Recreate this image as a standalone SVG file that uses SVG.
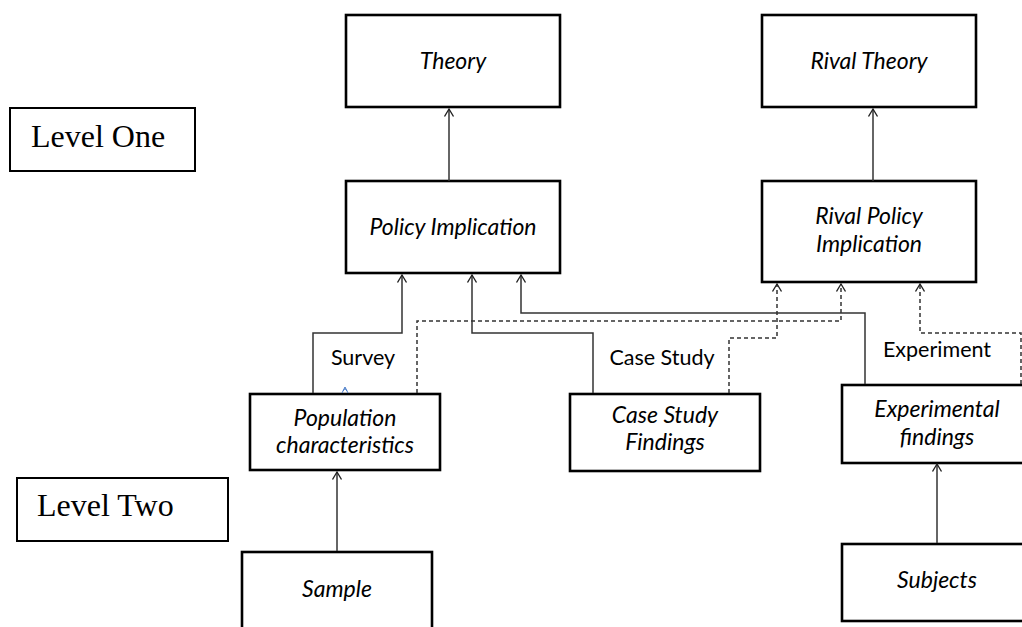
<svg xmlns="http://www.w3.org/2000/svg" width="1022" height="627" viewBox="0 0 1022 627">
<defs>
<marker id="arr" markerUnits="userSpaceOnUse" markerWidth="12" markerHeight="12" viewBox="-10 -6 12 12" refX="0" refY="0" orient="auto">
<path d="M-7.5,-4.5 L0,0 L-7.5,4.5" fill="none" stroke="#222" stroke-width="1.4"/>
</marker>
</defs>
<style>
.node{fill:#fff;stroke:#000;stroke-width:2.6}
.lvl{fill:#fff;stroke:#000;stroke-width:2}
.t{font-family:Lato,"Liberation Sans",sans-serif;font-style:italic;font-size:23px;fill:#000;text-anchor:middle}
.lab{font-family:Lato,"Liberation Sans",sans-serif;font-size:21.5px;fill:#000;text-anchor:middle}
.lv{font-family:"Liberation Serif",serif;font-size:32px;fill:#000}
.c{fill:none;stroke:#333;stroke-width:1.5}
.d{fill:none;stroke:#333;stroke-width:1.5;stroke-dasharray:4 3}
</style>
<rect width="1022" height="627" fill="#fff"/>
<g id="level-one"><rect class="lvl" x="10" y="108" width="185" height="63"/><text class="lv" x="31" y="147">Level One</text></g>
<g id="level-two"><rect class="lvl" x="17" y="478" width="211" height="63"/><text class="lv" x="37" y="516">Level Two</text></g>
<g id="theory"><rect class="node" x="346" y="15" width="214" height="92"/><text class="t" x="453" y="69">Theory</text></g>
<g id="rival-theory"><rect class="node" x="762" y="15" width="214" height="92"/><text class="t" x="869" y="69">Rival Theory</text></g>
<g id="policy-implication"><rect class="node" x="346" y="181" width="214" height="92"/><text class="t" x="453" y="235">Policy Implication</text></g>
<g id="rival-policy-implication"><rect class="node" x="762" y="181" width="214" height="101"/><text class="t" x="869" y="224">Rival Policy</text><text class="t" x="869" y="252">Implication</text></g>
<g id="population-characteristics"><rect class="node" x="250" y="394" width="190" height="76"/><text class="t" x="345" y="426">Population</text><text class="t" x="345" y="453">characteristics</text></g>
<g id="case-study-findings"><rect class="node" x="570" y="394" width="190" height="77"/><text class="t" x="665" y="423">Case Study</text><text class="t" x="665" y="450">Findings</text></g>
<g id="experimental-findings"><rect class="node" x="842" y="385" width="190" height="78"/><text class="t" x="937" y="417">Experimental</text><text class="t" x="937" y="445">findings</text></g>
<g id="sample"><rect class="node" x="242" y="552" width="190" height="80"/><text class="t" x="337" y="597">Sample</text></g>
<g id="subjects"><rect class="node" x="842" y="544" width="190" height="77"/><text class="t" x="937" y="588">Subjects</text></g>
<g id="connectors">
<path class="c" d="M449,181 V109" marker-end="url(#arr)"/>
<path class="c" d="M873,181 V109" marker-end="url(#arr)"/>
<path class="c" d="M313,393 V333 H402 V275" marker-end="url(#arr)"/>
<path class="c" d="M593,393 V333 H472 V275" marker-end="url(#arr)"/>
<path class="c" d="M865,384 V313 H521 V275" marker-end="url(#arr)" stroke="#555"/>
<path class="d" d="M417,393 V321 H841 V284" marker-end="url(#arr)"/>
<path class="d" d="M729,393 V338 H777 V284" marker-end="url(#arr)"/>
<path class="d" d="M1021,384 V333 H920 V284" marker-end="url(#arr)"/>
<path class="c" d="M337,551 V472" marker-end="url(#arr)"/>
<path class="c" d="M937,543 V464" marker-end="url(#arr)"/>
<path d="M342,393 L345,387 L348,393 M343,391 L345,388.5 L347,391" fill="none" stroke="#4a7cc9" stroke-width="1"/>
<text class="lab" x="363" y="365">Survey</text>
<text class="lab" x="662" y="365">Case Study</text>
<text class="lab" x="937" y="357">Experiment</text>
</g>
</svg>
